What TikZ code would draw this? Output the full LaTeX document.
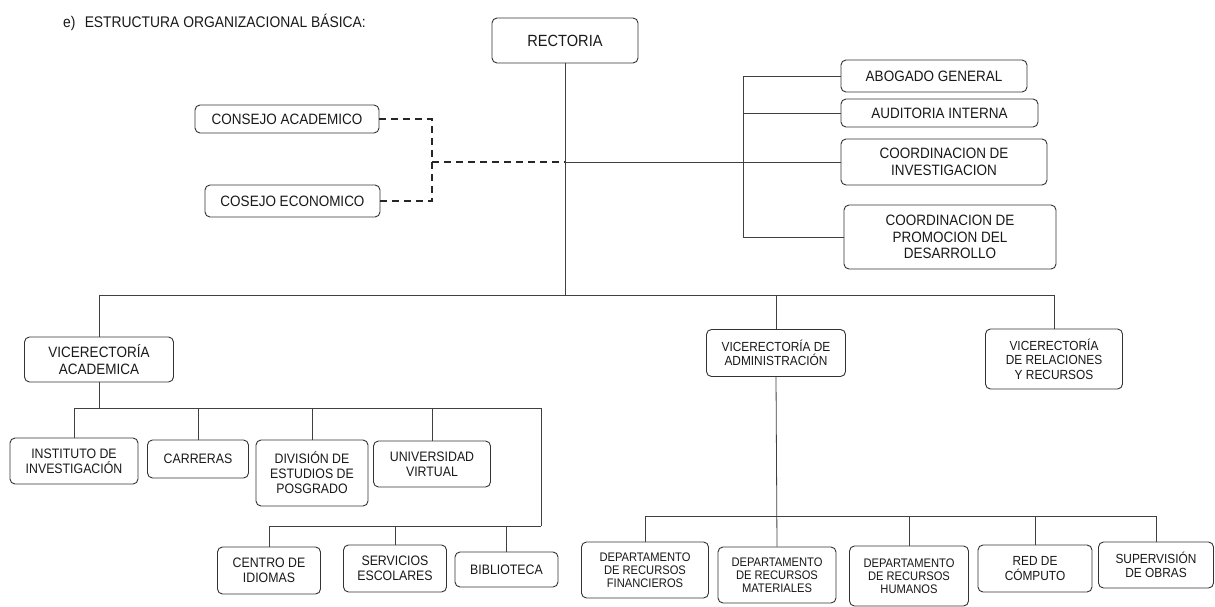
\documentclass[tikz,border=0pt]{standalone}
\usepackage{fontspec}
\setmainfont{Liberation Sans}[FakeStretch=0.9]
\newcommand{\fA}{\fontsize{15}{16.8}\selectfont}
\newcommand{\fR}{\fontsize{16.2}{18}\selectfont}
\newcommand{\fB}{\fontsize{13.7}{15}\selectfont}
\newcommand{\fC}{\fontsize{13.2}{14.6}\selectfont}
\newcommand{\fD}{\fontsize{12.4}{13.2}\selectfont}
\begin{document}
\begin{tikzpicture}[x=1pt,y=-1pt,
  every node/.style={text=black!90},
  box/.style={draw=black!80, rounded corners=5pt, align=center, inner sep=0pt, line width=0.9pt},
  conn/.style={draw=black!75, line width=0.8pt},
  dashline/.style={draw=black!85, line width=1.6pt, dash pattern=on 7pt off 5pt}]
\useasboundingbox[fill=white] (0,0) rectangle (1215,607);
% title
\node[anchor=base west, inner sep=0pt, font=\fontsize{15.4}{17}\selectfont] (title) at (63,28) {e)\hspace{0.6em}ESTRUCTURA ORGANIZACIONAL BÁSICA:};
% top level
\node[box, minimum width=146, minimum height=45, font=\fR] (rect) at (565,40.5) {RECTORIA};
\node[box, minimum width=186, minimum height=32, font=\fA] (abog) at (934,76) {ABOGADO GENERAL};
\node[box, minimum width=197, minimum height=28, font=\fA] (audit) at (939.5,113) {AUDITORIA INTERNA};
\node[box, minimum width=206, minimum height=46, font=\fA] (coordinv) at (944,162) {COORDINACION DE\\INVESTIGACION};
\node[box, minimum width=212, minimum height=64, font=\fA] (coordprom) at (950,237) {COORDINACION DE\\PROMOCION DEL\\DESARROLLO};
\node[box, minimum width=184, minimum height=28, font=\fA] (consejo) at (287,119) {CONSEJO ACADEMICO};
\node[box, minimum width=175, minimum height=32, font=\fA] (cosejo) at (292.5,201) {COSEJO ECONOMICO};
% vice-rectorates
\node[box, minimum width=149, minimum height=45, font=\fA] (viceac) at (99,359.5) {VICERECTORÍA\\ACADEMICA};
\node[box, minimum width=139, minimum height=47, font=\fC] (viceadm) at (776,353) {VICERECTORÍA DE\\ADMINISTRACIÓN};
\node[box, minimum width=137, minimum height=60, font=\fC] (vicerel) at (1054,359) {VICERECTORÍA\\DE RELACIONES\\Y RECURSOS};
% academic units
\node[box, minimum width=128, minimum height=46, font=\fB] (inst) at (74,461) {INSTITUTO DE\\INVESTIGACIÓN};
\node[box, minimum width=101, minimum height=38, font=\fB] (carr) at (198,459) {CARRERAS};
\node[box, minimum width=112, minimum height=66, font=\fB] (div) at (312,473) {DIVISIÓN DE\\ESTUDIOS DE\\POSGRADO};
\node[box, minimum width=117, minimum height=46, font=\fB] (univ) at (432,464) {UNIVERSIDAD\\VIRTUAL};
\node[box, minimum width=103, minimum height=47, font=\fB] (centro) at (269,570.5) {CENTRO DE\\IDIOMAS};
\node[box, minimum width=103, minimum height=47, font=\fB] (serv) at (395,568.5) {SERVICIOS\\ESCOLARES};
\node[box, minimum width=103, minimum height=35, font=\fB] (bibl) at (506.5,569.5) {BIBLIOTECA};
% administration units
\node[box, minimum width=127, minimum height=56, font=\fD] (depfin) at (645,570) {DEPARTAMENTO\\DE RECURSOS\\FINANCIEROS};
\node[box, minimum width=118, minimum height=56, font=\fD] (depmat) at (777,575) {DEPARTAMENTO\\DE RECURSOS\\MATERIALES};
\node[box, minimum width=119, minimum height=60, font=\fD] (dephum) at (909,576) {DEPARTAMENTO\\DE RECURSOS\\HUMANOS};
\node[box, minimum width=114, minimum height=47, font=\fC] (red) at (1035,568.5) {RED DE\\CÓMPUTO};
\node[box, minimum width=115, minimum height=46, font=\fC] (sup) at (1156,565) {SUPERVISIÓN\\DE OBRAS};
% coordinates
\coordinate (busC) at (565,295);
\coordinate (sp) at (743,150);
\coordinate (dk) at (432,162);
\coordinate (sa) at (99,408);
\coordinate (sr) at (541,408);
\coordinate (lr) at (541,526);
\coordinate (ab) at (777,516);
% connectors: top
\draw[conn] (rect.south) -- (busC);
\draw[conn] (viceac.north) |- (busC);
\draw[conn] (vicerel.north) |- (busC);
\draw[conn] (viceadm.north) -- (viceadm.north |- busC);
\draw[conn] (abog.west -| sp) -- (coordprom.west -| sp);
\draw[conn] (abog.west) -- (abog.west -| sp);
\draw[conn] (audit.west) -- (audit.west -| sp);
\draw[conn] (coordinv.west) -- (coordinv.west -| rect.south);
\draw[conn] (coordprom.west) -- (coordprom.west -| sp);
\draw[dashline] (consejo.east) -| (dk) |- (cosejo.east);
\draw[dashline] (dk) -- (dk -| rect.south);
% academic
\draw[conn] (viceac.south) -- (sa);
\draw[conn] (inst.north) |- (sr);
\draw[conn] (carr.north) -- (carr.north |- sa);
\draw[conn] (div.north) -- (div.north |- sa);
\draw[conn] (univ.north) -- (univ.north |- sa);
\draw[conn] (sr) -- (lr);
\draw[conn] (centro.north) |- (lr);
\draw[conn] (serv.north) -- (serv.north |- lr);
\draw[conn] (bibl.north) -- (bibl.north |- lr);
% administration
\draw[conn] (viceadm.south) -- (depmat.north);
\draw[conn] (depfin.north) |- (ab);
\draw[conn] (sup.north) |- (ab);
\draw[conn] (dephum.north) -- (dephum.north |- ab);
\draw[conn] (red.north) -- (red.north |- ab);
\end{tikzpicture}
\end{document}
